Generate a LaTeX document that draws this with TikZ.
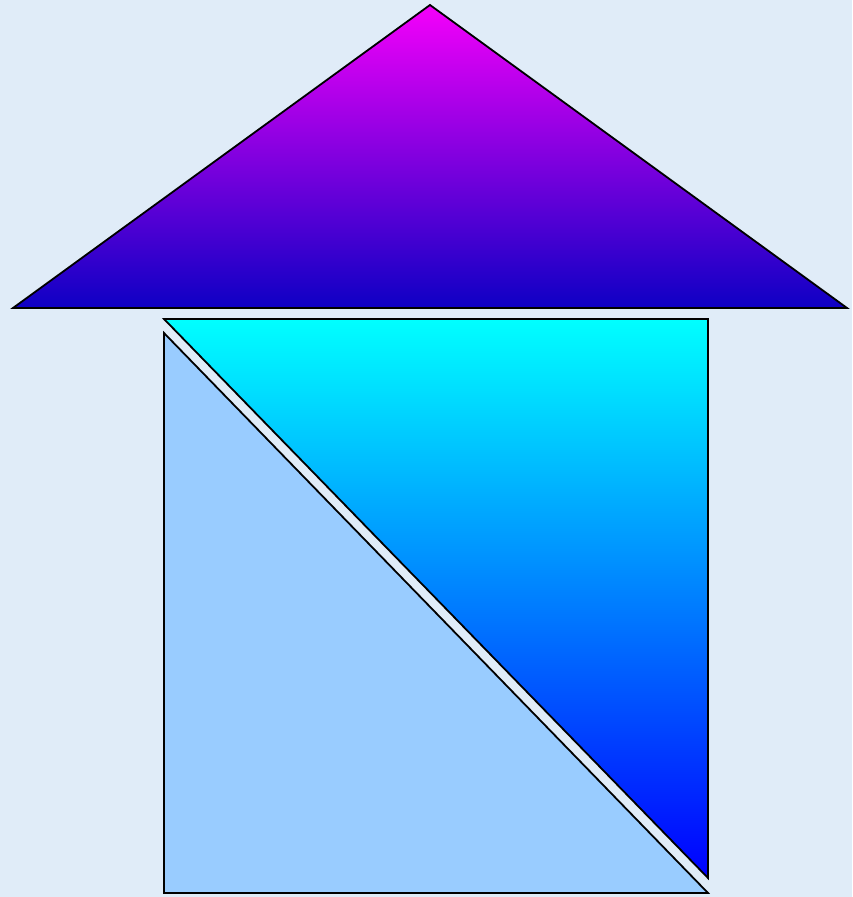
\documentclass[tikz,border=0pt]{standalone}
\usepackage{xcolor}
\usepackage{tikz}
\usetikzlibrary{calc}

\begin{document}
\begin{tikzpicture}[x=1pt,y=1pt]
\definecolor{fillColor}{RGB}{224,236,248}
\path[use as bounding box,fill=fillColor] (0,0) rectangle (852,897);
\begin{scope}
\definecolor{drawColor}{RGB}{0,0,0}
\definecolor{roofTop}{RGB}{245,0,250}
\definecolor{roofBottom}{RGB}{14,0,196}
\definecolor{wallTop}{RGB}{0,255,255}
\definecolor{wallBottom}{RGB}{0,0,255}
\definecolor{wallFill}{RGB}{153,204,255}

% roof
\path[draw=drawColor,line width= 1.8pt,line join=miter,top color=roofTop,bottom color=roofBottom] ( 13.00,589.00) --
	(430.00,892.00) -- (847.00,589.00) -- cycle;

% upper half of the wall
\path[draw=drawColor,line width= 1.8pt,line join=miter,top color=wallTop,bottom color=wallBottom] (164.00,578.00) --
	(708.00,578.00) -- (708.00, 19.00) -- cycle;

% lower half of the wall
\path[draw=drawColor,line width= 1.8pt,line join=miter,fill=wallFill] (164.00,564.00) --
	(164.00,  4.00) -- (708.00,  4.00) -- cycle;
\end{scope}
\end{tikzpicture}
\end{document}
